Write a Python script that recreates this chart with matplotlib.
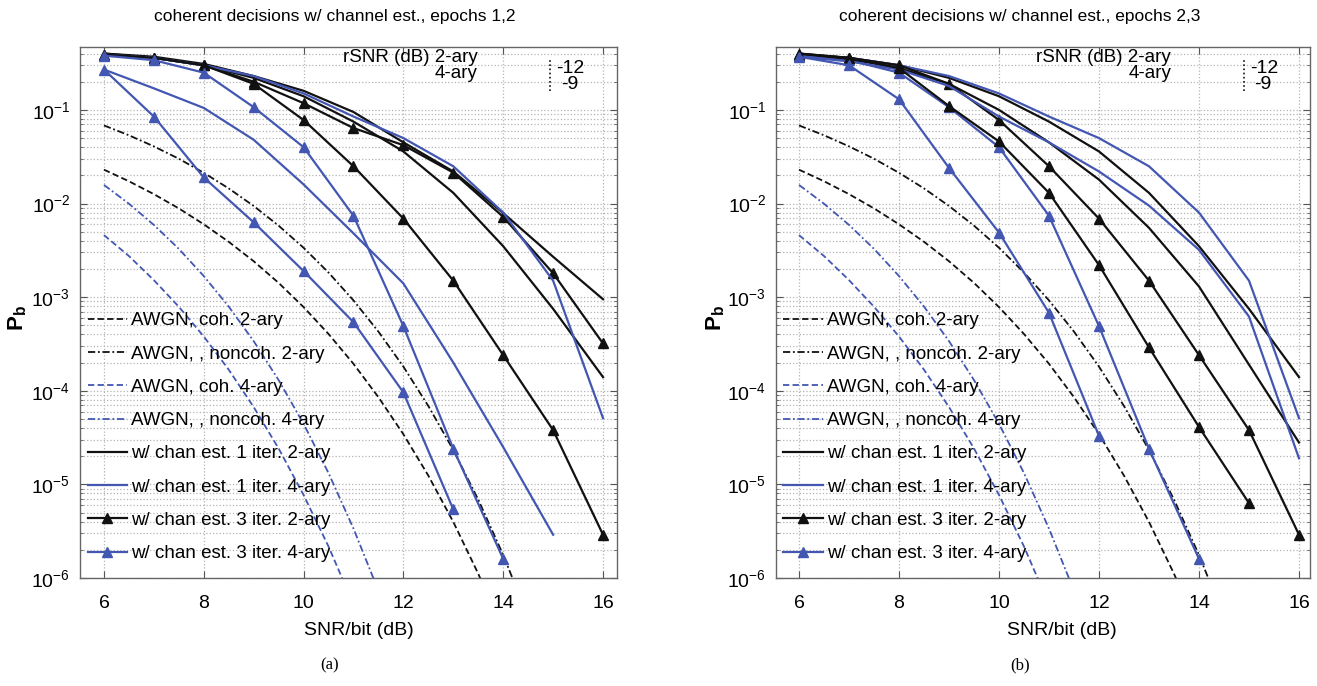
import numpy as np
import matplotlib
matplotlib.use("Agg")
import matplotlib.pyplot as plt
from matplotlib.ticker import LogLocator, NullFormatter, FixedLocator
from matplotlib.lines import Line2D

plt.rcParams['font.family'] = ['Liberation Sans', 'DejaVu Sans']
plt.rcParams['mathtext.fontset'] = 'custom'
plt.rcParams['mathtext.rm'] = 'Liberation Sans'
plt.rcParams['mathtext.it'] = 'Liberation Sans:italic'
plt.rcParams['mathtext.bf'] = 'Liberation Sans:bold'

# ---------------- AWGN reference curves ----------------
snr_coh2 = [6, 6.5, 7, 7.5, 8, 8.5, 9, 9.5, 10, 10.5, 11, 11.5, 12, 12.5, 13, 13.5, 14]
pb_coh2 = [2.30e-2, 1.73e-2, 1.26e-2, 8.87e-3, 6.0e-3, 3.90e-3, 2.42e-3, 1.42e-3,
           7.83e-4, 4.04e-4, 1.94e-4, 8.53e-5, 3.43e-5, 1.24e-5, 3.97e-6, 1.11e-6, 2.7e-7]

snr_noncoh2 = [6, 6.5, 7, 7.5, 8, 8.5, 9, 9.5, 10, 10.5, 11, 11.5, 12, 12.5, 13, 13.5, 14, 14.5]
pb_noncoh2 = [6.83e-2, 5.36e-2, 4.08e-2, 3.01e-2, 2.13e-2, 1.45e-2, 9.42e-3, 5.80e-3,
              3.37e-3, 1.83e-3, 9.23e-4, 4.28e-4, 1.81e-4, 6.87e-5, 2.33e-5, 6.87e-6,
              1.76e-6, 3.8e-7]

snr_coh4 = [6, 6.5, 7, 7.5, 8, 8.5, 9, 9.5, 10, 10.5, 11]
pb_coh4 = [4.6e-3, 2.75e-3, 1.52e-3, 7.9e-4, 3.8e-4, 1.68e-4, 6.7e-5, 2.42e-5,
           7.7e-6, 2.17e-6, 5.2e-7]

snr_noncoh4 = [6, 6.5, 7, 7.5, 8, 8.5, 9, 9.5, 10, 10.5, 11, 11.5]
pb_noncoh4 = [1.58e-2, 9.96e-3, 5.91e-3, 3.28e-3, 1.68e-3, 7.93e-4, 3.39e-4, 1.30e-4,
              4.43e-5, 1.32e-5, 3.37e-6, 7.3e-7]

# ---------------- channel-estimation results (SNR/bit = 6, 7, ...) ----------------
# epoch 1
ep1_it1_2ary = [0.40, 0.37, 0.31, 0.23, 0.16, 0.095, 0.045, 0.022, 0.0079, 0.0027, 9.5e-4]
ep1_it1_4ary = [0.27, 0.17, 0.105, 0.048, 0.016, 0.0048, 0.0014, 2.0e-4, 2.5e-5, 2.9e-6]
ep1_it3_2ary = [0.39, 0.36, 0.30, 0.20, 0.118, 0.064, 0.042, 0.0214, 0.0072, 0.0018, 3.2e-4]
ep1_it3_4ary = [0.27, 0.085, 0.019, 0.0063, 0.0019, 5.4e-4, 9.6e-5, 5.4e-6]
# epoch 2
ep2_it1_2ary = [0.40, 0.36, 0.30, 0.22, 0.14, 0.075, 0.036, 0.013, 0.0035, 7.5e-4, 1.4e-4]
ep2_it1_4ary = [0.39, 0.36, 0.30, 0.23, 0.15, 0.085, 0.050, 0.025, 0.0080, 0.0015, 5.1e-5]
ep2_it3_2ary = [0.39, 0.36, 0.30, 0.19, 0.078, 0.025, 0.0069, 0.0015, 2.4e-4, 3.8e-5, 2.9e-6]
ep2_it3_4ary = [0.38, 0.34, 0.25, 0.107, 0.040, 0.0074, 4.9e-4, 2.4e-5, 1.6e-6]
# epoch 3
ep3_it1_2ary = [0.40, 0.35, 0.28, 0.19, 0.10, 0.045, 0.018, 0.0055, 0.0013, 1.9e-4, 2.8e-5]
ep3_it1_4ary = [0.37, 0.33, 0.27, 0.18, 0.085, 0.045, 0.022, 0.0095, 0.0032, 6.2e-4, 1.9e-5]
ep3_it3_2ary = [0.40, 0.36, 0.28, 0.11, 0.046, 0.013, 0.0022, 2.9e-4, 4.1e-5, 6.3e-6]
ep3_it3_4ary = [0.37, 0.30, 0.13, 0.024, 0.0049, 6.8e-4, 3.3e-5]

panel_titles = ['coherent decisions w/ channel est., epochs 1,2',
                'coherent decisions w/ channel est., epochs 2,3']
panel_tags = ['(a)', '(b)']
legend_labels = ['AWGN, coh. 2-ary', 'AWGN, , noncoh. 2-ary', 'AWGN, coh. 4-ary',
                 'AWGN, , noncoh. 4-ary', 'w/ chan est. 1 iter. 2-ary',
                 'w/ chan est. 1 iter. 4-ary', 'w/ chan est. 3 iter. 2-ary',
                 'w/ chan est. 3 iter. 4-ary']
rsnr_2ary = '-12'
rsnr_4ary = '-9'

BLACK = '#111111'
BLUE = '#4357b2'
GRID = '#b4b4b4'
DASH = (0, (3.5, 1.8))
DASHDOT = (0, (4, 1.5, 1, 1.5))

fig = plt.figure(figsize=(13.17, 6.86), dpi=100)
W, H = 1317.0, 686.0
ax_a = fig.add_axes([80 / W, 1 - 578 / H, 537 / W, 531 / H])
ax_b = fig.add_axes([776 / W, 1 - 578 / H, 534 / W, 531 / H])


def snr_axis(vals):
    return list(range(6, 6 + len(vals)))


def draw_panel(ax, epochs, xlim, xlabel_x, ylabel_x):
    lw_ref = 1.3
    ax.semilogy(snr_coh2, pb_coh2, color=BLACK, ls=DASH, lw=lw_ref)
    ax.semilogy(snr_noncoh2, pb_noncoh2, color=BLACK, ls=DASHDOT, lw=lw_ref)
    ax.semilogy(snr_coh4, pb_coh4, color=BLUE, ls=DASH, lw=lw_ref)
    ax.semilogy(snr_noncoh4, pb_noncoh4, color=BLUE, ls=DASHDOT, lw=lw_ref)
    for it1_2, it1_4, it3_2, it3_4 in epochs:
        ax.semilogy(snr_axis(it1_2), it1_2, color=BLACK, lw=1.6)
        ax.semilogy(snr_axis(it1_4), it1_4, color=BLUE, lw=1.6)
        ax.semilogy(snr_axis(it3_2), it3_2, color=BLACK, lw=1.6, marker='^', ms=6.5)
        ax.semilogy(snr_axis(it3_4), it3_4, color=BLUE, lw=1.6, marker='^', ms=6.5)

    ax.set_xlim(*xlim)
    ax.set_ylim(1e-6, 0.47)
    ax.xaxis.set_major_locator(FixedLocator([6, 8, 10, 12, 14, 16]))
    ax.yaxis.set_major_locator(FixedLocator([1e-6, 1e-5, 1e-4, 1e-3, 1e-2, 1e-1]))
    ax.yaxis.set_minor_locator(LogLocator(base=10, subs=np.arange(2, 10), numticks=20))
    ax.yaxis.set_minor_formatter(NullFormatter())
    ax.grid(True, which='major', axis='both', color=GRID, ls=':', lw=0.9)
    ax.grid(True, which='minor', axis='y', color=GRID, ls=':', lw=0.9)
    ax.tick_params(which='both', direction='in', top=True, right=True,
                   labelsize=14, color='#555555')
    ax.tick_params(which='major', length=5, pad=7)
    ax.tick_params(which='minor', length=2.5)
    ax.tick_params(axis='x', pad=12)
    for sp in ax.spines.values():
        sp.set_color('#666666')
        sp.set_linewidth(1.0)
    ax.set_xlabel('SNR/bit (dB)', fontsize=14)
    ax.xaxis.set_label_coords(xlabel_x, -0.083)
    ax.set_ylabel(r'$\mathbf{P_b}$', fontsize=16)
    ax.yaxis.set_label_coords(ylabel_x, 0.49)

    handles = [
        Line2D([], [], color=BLACK, ls=DASH, lw=lw_ref),
        Line2D([], [], color=BLACK, ls=DASHDOT, lw=lw_ref),
        Line2D([], [], color=BLUE, ls=DASH, lw=lw_ref),
        Line2D([], [], color=BLUE, ls=DASHDOT, lw=lw_ref),
        Line2D([], [], color=BLACK, lw=1.6),
        Line2D([], [], color=BLUE, lw=1.6),
        Line2D([], [], color=BLACK, lw=1.6, marker='^', ms=6.5),
        Line2D([], [], color=BLUE, lw=1.6, marker='^', ms=6.5),
    ]
    ax.legend(handles, legend_labels, loc='lower left',
              bbox_to_anchor=(0.014, 0.03), frameon=False, fontsize=13.5,
              handlelength=2.1, handletextpad=0.2, labelspacing=0.86,
              borderpad=0, borderaxespad=0)

    # rSNR key in the upper right corner
    ax.text(0.74, 0.972, 'rSNR (dB) 2-ary', transform=ax.transAxes, ha='right',
            va='baseline', fontsize=13.5)
    ax.text(0.74, 0.941, '4-ary', transform=ax.transAxes, ha='right',
            va='baseline', fontsize=13.5)
    ax.plot([0.876, 0.876], [0.918, 0.98], transform=ax.transAxes, color=BLACK,
            ls=(0, (1, 1.5)), lw=1.2)
    ax.text(0.887, 0.951, rsnr_2ary, transform=ax.transAxes, ha='left',
            va='baseline', fontsize=14)
    ax.text(0.896, 0.920, rsnr_4ary, transform=ax.transAxes, ha='left',
            va='baseline', fontsize=14)


draw_panel(ax_a, [(ep1_it1_2ary, ep1_it1_4ary, ep1_it3_2ary, ep1_it3_4ary),
                  (ep2_it1_2ary, ep2_it1_4ary, ep2_it3_2ary, ep2_it3_4ary)],
           (5.52, 16.28), 0.52, -0.095)
draw_panel(ax_b, [(ep2_it1_2ary, ep2_it1_4ary, ep2_it3_2ary, ep2_it3_4ary),
                  (ep3_it1_2ary, ep3_it1_4ary, ep3_it3_2ary, ep3_it3_4ary)],
           (5.54, 16.22), 0.535, -0.092)

fig.text(335 / W, 1 - 16 / H, panel_titles[0], ha='center', va='center', fontsize=12.5)
fig.text(1020 / W, 1 - 16 / H, panel_titles[1], ha='center', va='center', fontsize=12.5)
fig.text(330 / W, 1 - 665 / H, panel_tags[0], ha='center', va='center', fontsize=12,
         family=['Liberation Serif', 'DejaVu Serif'])
fig.text(1020 / W, 1 - 665 / H, panel_tags[1], ha='center', va='center', fontsize=12,
         family=['Liberation Serif', 'DejaVu Serif'])

fig.savefig('out.png', dpi=100)
